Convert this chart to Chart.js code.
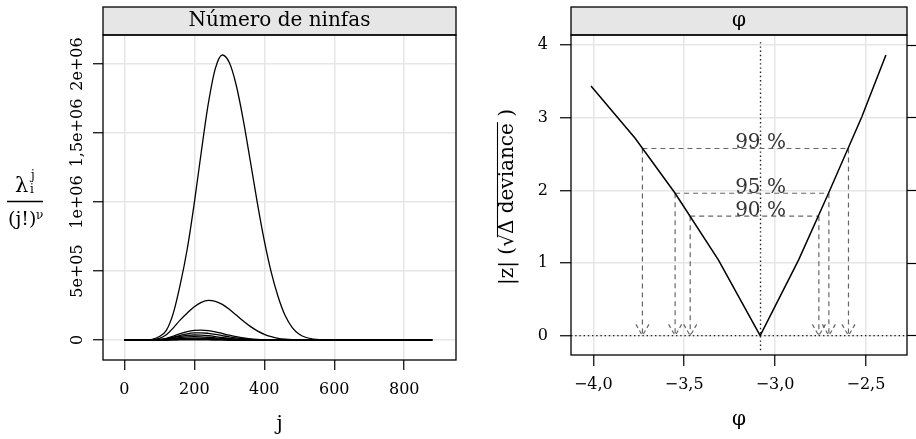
<!DOCTYPE html>
<html>
<head>
<meta charset="utf-8">
<script src="https://cdn.jsdelivr.net/npm/chart.js@4.4.1/dist/chart.umd.min.js"></script>
<style>
  html, body { margin: 0; padding: 0; background: #fff; }
  #wrap { position: relative; width: 916px; height: 439px; }
  canvas { position: absolute; top: 0; }
  #left { left: 0; }
  #right { left: 460px; }
</style>
</head>
<body>
<div id="wrap">
  <canvas id="left" width="460" height="439"></canvas>
  <canvas id="right" width="456" height="439"></canvas>
</div>
<script>
// ---- panel 1: Número de ninfas (lambda^j / (j!)^nu against j)
const jValues = [0, 60, 80, 100, 120, 140, 160, 180, 200, 220, 240, 260, 280, 300, 320, 340, 360, 380, 400, 420, 440, 460, 480, 500, 520, 540, 560, 580, 600, 880];
const curveA = [0, 0, 5e3, 2.5e4, 7e4, 1.95e5, 4.04e5, 6.63e5, 9.94e5, 1.364e6, 1.712e6, 1.966e6, 2.065e6, 2.01e6, 1.844e6, 1.594e6, 1.298e6, 9.96e5, 7.2e5, 4.9e5, 3.1e5, 1.75e5, 9e4, 4.2e4, 1.8e4, 7e3, 2.5e3, 800, 200, 0];
const curveB = [0, 0, 2e3, 1.2e4, 3.8e4, 8.8e4, 1.46e5, 1.957e5, 2.401e5, 2.727e5, 2.867e5, 2.806e5, 2.579e5, 2.227e5, 1.806e5, 1.376e5, 9.85e4, 6.6e4, 4.1e4, 2.4e4, 1.2e4, 5.5e3, 2.2e3, 800, 200, 0, 0, 0, 0, 0];
const curveC = [0, 0, 0, 3e3, 1.2e4, 2.8e4, 4.6e4, 6.1e4, 7e4, 7.2e4, 6.8e4, 5.9e4, 4.7e4, 3.5e4, 2.4e4, 1.5e4, 8.5e3, 4.3e3, 1.8e3, 700, 200, 0, 0, 0, 0, 0, 0, 0, 0, 0];
const curveD = [0, 0, 0, 2e3, 9e3, 2.1e4, 3.4e4, 4.5e4, 5.1e4, 5.2e4, 4.8e4, 4.1e4, 3.2e4, 2.3e4, 1.5e4, 9e3, 5e3, 2.3e3, 900, 300, 0, 0, 0, 0, 0, 0, 0, 0, 0, 0];
const curveE = [0, 0, 0, 2e3, 7e3, 1.6e4, 2.6e4, 3.3e4, 3.6e4, 3.5e4, 3.1e4, 2.5e4, 1.8e4, 1.2e4, 7e3, 4e3, 2e3, 800, 300, 0, 0, 0, 0, 0, 0, 0, 0, 0, 0, 0];
const curveF = [0, 0, 0, 1.5e3, 5e3, 1.1e4, 1.8e4, 2.3e4, 2.4e4, 2.3e4, 2e4, 1.6e4, 1.1e4, 7e3, 4e3, 2e3, 900, 300, 0, 0, 0, 0, 0, 0, 0, 0, 0, 0, 0, 0];
const curveG = [0, 0, 0, 1e3, 3e3, 7e3, 1.1e4, 1.35e4, 1.4e4, 1.3e4, 1.1e4, 8e3, 5.5e3, 3.5e3, 2e3, 1e3, 400, 0, 0, 0, 0, 0, 0, 0, 0, 0, 0, 0, 0, 0];
const curveH = [0, 0, 0, 400, 1.2e3, 2.5e3, 4e3, 4.8e3, 5e3, 4.6e3, 3.8e3, 2.8e3, 1.9e3, 1.2e3, 600, 300, 100, 0, 0, 0, 0, 0, 0, 0, 0, 0, 0, 0, 0, 0];
const ninfasCurves = [curveA, curveB, curveC, curveD, curveE, curveF, curveG, curveH];
const xTickValuesLeft = [0, 200, 400, 600, 800];
const yTickValuesLeft = [0, 5e5, 1e6, 1.5e6, 2e6];
const yTickLabelsLeft = ['0', '5e+05', '1e+06', '1,5e+06', '2e+06'];

// ---- panel 2: profile for phi
const phiGrid = [-4.013, -3.77, -3.55, -3.312, -3.082, -2.871, -2.706, -2.523, -2.39];
const zProfile = [3.436, 2.716, 1.96, 1.042, 0, 1.04, 1.96, 3.01, 3.863];
const phiHat = -3.08;
const ciLabels = ['90 %', '95 %', '99 %'];
const zCrit = [1.645, 1.96, 2.576];
const ciLower = [-3.467, -3.55, -3.73];
const ciUpper = [-2.759, -2.704, -2.596];
const xTickValuesRight = [-4, -3.5, -3, -2.5];
const xTickLabelsRight = ['\u22124,0', '\u22123,5', '\u22123,0', '\u22122,5'];
const yTickValuesRight = [0, 1, 2, 3, 4];

const FONT = '"DejaVu Serif", serif';
const TICK_SIZE = 16;
Chart.defaults.font.family = FONT;
Chart.defaults.font.size = TICK_SIZE;
Chart.defaults.color = '#000';

const pick = (vals, labels) => v => {
  const k = vals.findIndex(t => Math.abs(t - v) < 1e-6 * Math.max(1, Math.abs(t)));
  return k < 0 ? '' : labels[k];
};
const fixTicks = vals => s => { s.ticks = vals.map(v => ({ value: v })); };

const gridStyle = { color: '#e6e6e6', lineWidth: 1.5, tickColor: '#000', tickWidth: 1.2, tickLength: 10 };

// strip + box, lattice style
function drawStripAndBox(ctx, a, text) {
  ctx.save();
  ctx.fillStyle = '#e6e6e6';
  ctx.fillRect(a.left, 7, a.right - a.left, a.top - 7);
  ctx.strokeStyle = '#000';
  ctx.lineWidth = 1.3;
  ctx.strokeRect(a.left, 7, a.right - a.left, a.top - 7);
  ctx.strokeRect(a.left, a.top, a.right - a.left, a.bottom - a.top);
  ctx.fillStyle = '#000';
  ctx.font = '20px ' + FONT;
  ctx.textAlign = 'center';
  ctx.textBaseline = 'middle';
  ctx.fillText(text, (a.left + a.right) / 2, 21);
  ctx.restore();
}

const leftDeco = {
  id: 'leftDeco',
  afterDraw(chart) {
    const ctx = chart.ctx;
    drawStripAndBox(ctx, chart.chartArea, 'Número de ninfas');
    // y label: lambda_i^j / (j!)^nu
    ctx.save();
    ctx.fillStyle = '#000';
    ctx.textAlign = 'left';
    ctx.textBaseline = 'alphabetic';
    ctx.font = '21px ' + FONT;
    ctx.fillText('λ', 15, 192);
    ctx.font = '12px ' + FONT;
    ctx.fillText('j', 31, 179);
    ctx.fillText('i', 30, 193);
    ctx.font = '19px ' + FONT;
    ctx.fillText('(j!)', 8, 225);
    ctx.font = '12px ' + FONT;
    ctx.fillText('ν', 36, 219);
    ctx.strokeStyle = '#000';
    ctx.lineWidth = 1.3;
    ctx.beginPath();
    ctx.moveTo(7, 201.5);
    ctx.lineTo(43, 201.5);
    ctx.stroke();
    ctx.restore();
  }
};

// rotated tick labels on the left panel: centre them on x = 78
const meas = document.createElement('canvas').getContext('2d');
meas.font = TICK_SIZE + 'px ' + FONT;
const widestLeft = Math.max(...yTickLabelsLeft.map(s => meas.measureText(s).width));

new Chart(document.getElementById('left'), {
  type: 'scatter',
  data: {
    datasets: ninfasCurves.map((c, k) => ({
      data: jValues.map((j, i) => ({ x: j, y: c[i] })),
      showLine: true,
      borderColor: '#000',
      borderWidth: k === ninfasCurves.length - 1 ? 2.2 : 1.3,
      pointRadius: 0,
      cubicInterpolationMode: 'monotone'
    }))
  },
  options: {
    responsive: false,
    animation: false,
    layout: { padding: { top: 35, right: 4, left: 0, bottom: 0 } },
    plugins: { legend: { display: false }, tooltip: { enabled: false } },
    scales: {
      x: {
        type: 'linear', min: -61, max: 948,
        afterBuildTicks: fixTicks(xTickValuesLeft),
        ticks: { padding: 10, maxRotation: 0, autoSkip: false },
        grid: gridStyle,
        border: { display: false },
        title: { display: true, text: 'j', font: { size: 20 }, padding: { top: 0, bottom: 2 } },
        afterFit: s => { s.height = 79; }
      },
      y: {
        type: 'linear', min: -1.45e5, max: 2.21e6,
        afterBuildTicks: fixTicks(yTickValuesLeft),
        ticks: {
          autoSkip: false, minRotation: 90, maxRotation: 90,
          crossAlign: 'center', padding: 15 - widestLeft / 2,
          callback: pick(yTickValuesLeft, yTickLabelsLeft)
        },
        grid: gridStyle,
        border: { display: false },
        afterFit: s => { s.width = 103; }
      }
    }
  },
  plugins: [leftDeco]
});

// ---- right panel
function arrowHead(ctx, x, y) {
  const len = 13, ang = Math.PI / 6;
  const dx = len * Math.sin(ang), dy = len * Math.cos(ang);
  ctx.beginPath();
  ctx.moveTo(x - dx, y - dy); ctx.lineTo(x, y);
  ctx.moveTo(x + dx, y - dy); ctx.lineTo(x, y);
  ctx.stroke();
}

const rightDeco = {
  id: 'rightDeco',
  afterDatasetsDraw(chart) {
    const ctx = chart.ctx, sx = chart.scales.x, sy = chart.scales.y;
    ctx.save();
    ctx.strokeStyle = '#666';
    ctx.lineWidth = 1.2;
    ctx.setLineDash([4, 3]);
    const y0 = sy.getPixelForValue(0);
    ciLower.forEach((lo, i) => {
      arrowHead(ctx, sx.getPixelForValue(lo), y0);
      arrowHead(ctx, sx.getPixelForValue(ciUpper[i]), y0);
    });
    ctx.setLineDash([]);
    ctx.fillStyle = '#333';
    ctx.font = '20px ' + FONT;
    ctx.textAlign = 'center';
    ctx.textBaseline = 'alphabetic';
    ciLabels.forEach((lab, i) => {
      ctx.fillText(lab, sx.getPixelForValue(phiHat), sy.getPixelForValue(zCrit[i]) - 0.5);
    });
    ctx.restore();
  },
  afterDraw(chart) {
    const ctx = chart.ctx;
    drawStripAndBox(ctx, chart.chartArea, 'φ');
    // y label: |z| ( sqrt(Delta deviance) ), rotated
    ctx.save();
    ctx.translate(53, 197);
    ctx.rotate(-Math.PI / 2);
    ctx.fillStyle = '#000';
    ctx.strokeStyle = '#000';
    ctx.font = '20px ' + FONT;
    ctx.textAlign = 'left';
    ctx.textBaseline = 'alphabetic';
    const parts = ['|z|', ' (', '√', 'Δ deviance', ' )'];
    const widths = parts.map(p => ctx.measureText(p).width);
    const total = widths.reduce((s, w) => s + w, 0);
    let u = -total / 2, uRoot = 0, uEnd = 0;
    parts.forEach((p, i) => {
      ctx.fillText(p, u, 0);
      if (i === 2) uRoot = u + widths[i] * 0.75;
      if (i === 3) uEnd = u + widths[i] + 1;
      u += widths[i];
    });
    const top = ctx.measureText('√').actualBoundingBoxAscent;
    ctx.lineWidth = 1.1;
    ctx.beginPath();
    ctx.moveTo(uRoot, -top + 0.5);
    ctx.lineTo(uEnd, -top + 0.5);
    ctx.stroke();
    ctx.restore();
  }
};

const dashed = { showLine: true, pointRadius: 0, borderColor: '#666', borderWidth: 1.2, borderDash: [5, 4] };
const dotted = { showLine: true, pointRadius: 0, borderColor: '#222', borderWidth: 1.4, borderDash: [1.4, 2.8] };

const rightSets = [
  { data: phiGrid.map((p, i) => ({ x: p, y: zProfile[i] })), showLine: true, pointRadius: 0, borderColor: '#000', borderWidth: 1.5, tension: 0 }
];
zCrit.forEach((z, i) => {
  rightSets.push({ ...dashed, data: [{ x: ciLower[i], y: z }, { x: ciUpper[i], y: z }] });
  rightSets.push({ ...dashed, data: [{ x: ciLower[i], y: z }, { x: ciLower[i], y: 0 }] });
  rightSets.push({ ...dashed, data: [{ x: ciUpper[i], y: z }, { x: ciUpper[i], y: 0 }] });
});
rightSets.push({ ...dotted, data: [{ x: phiHat, y: -0.2 }, { x: phiHat, y: 4.07 }] });
rightSets.push({ ...dotted, data: [{ x: -4.123, y: 0 }, { x: -2.274, y: 0 }] });

new Chart(document.getElementById('right'), {
  type: 'scatter',
  data: { datasets: rightSets },
  options: {
    responsive: false,
    animation: false,
    layout: { padding: { top: 35, right: 0, left: 0, bottom: 0 } },
    plugins: { legend: { display: false }, tooltip: { enabled: false } },
    scales: {
      x: {
        type: 'linear', min: -4.123, max: -2.274,
        afterBuildTicks: fixTicks(xTickValuesRight),
        ticks: { padding: 9, maxRotation: 0, autoSkip: false,
          callback: pick(xTickValuesRight, xTickLabelsRight) },
        grid: { ...gridStyle, tickLength: 11 },
        border: { display: false },
        title: { display: true, text: 'φ', font: { size: 20 }, padding: { top: 0, bottom: 7 } },
        afterFit: s => { s.height = 84; }
      },
      y: {
        type: 'linear', min: -0.266, max: 4.138,
        afterBuildTicks: fixTicks(yTickValuesRight),
        ticks: { padding: 12, autoSkip: false },
        grid: { ...gridStyle, tickLength: 11 },
        border: { display: false },
        afterFit: s => { s.width = 111; }
      },
      y2: {
        type: 'linear', position: 'right', min: -0.266, max: 4.138,
        afterBuildTicks: fixTicks(yTickValuesRight),
        ticks: { display: false },
        grid: { drawOnChartArea: false, tickColor: '#000', tickWidth: 1.2, tickLength: 9 },
        border: { display: false },
        afterFit: s => { s.width = 9; }
      }
    }
  },
  plugins: [rightDeco]
});
</script>
</body>
</html>
